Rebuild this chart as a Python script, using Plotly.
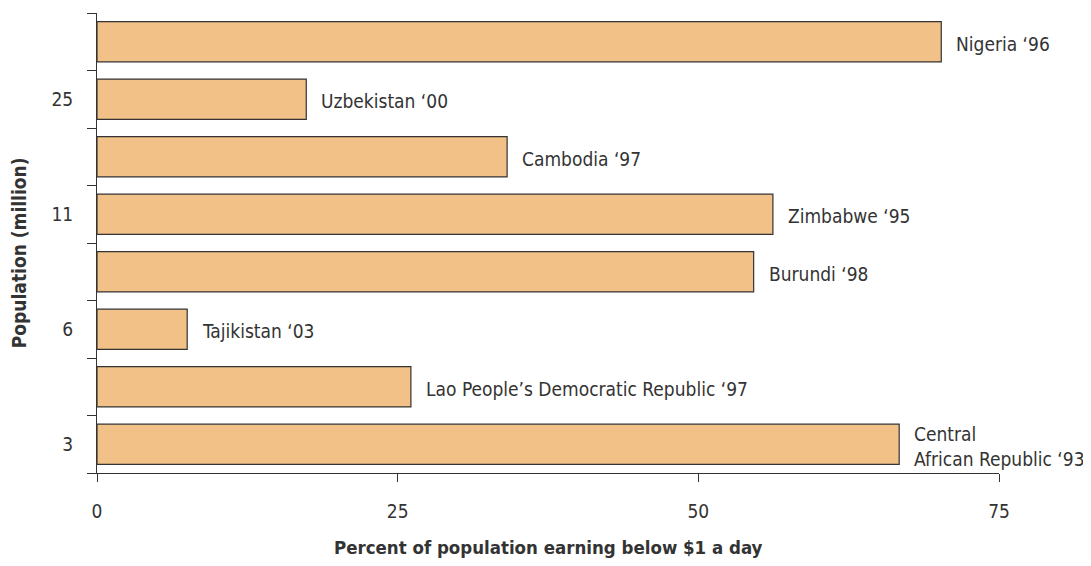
import plotly.graph_objects as go

# Data (bottom to top)
countries = [
    "Central<br>African Republic \u201893",
    "Lao People\u2019s Democratic Republic \u201897",
    "Tajikistan \u201803",
    "Burundi \u201898",
    "Zimbabwe \u201895",
    "Cambodia \u201897",
    "Uzbekistan \u201800",
    "Nigeria \u201896",
]
percent_below_1 = [66.7, 26.1, 7.5, 54.6, 56.2, 34.1, 17.4, 70.2]
pop_tick_positions = [0, 2, 4, 6]
pop_tick_labels = ["3", "6", "11", "25"]
x_ticks = [0, 25, 50, 75]

FONT = "DejaVu Sans Condensed, Roboto Condensed, Liberation Sans Narrow, Roboto, sans-serif"
TXT = "#333333"
positions = list(range(len(countries)))

fig = go.Figure()
fig.add_trace(go.Bar(
    x=percent_below_1,
    y=positions,
    orientation="h",
    width=0.7,
    marker=dict(color="#F2C188", line=dict(color="#333333", width=1.2)),
    hoverinfo="skip",
))

for c, v, p in zip(countries, percent_below_1, positions):
    fig.add_annotation(
        x=v, y=p, text=c, showarrow=False, xanchor="left", yanchor="middle",
        xshift=13, yshift=-2, align="left",
        font=dict(family=FONT, size=19, color=TXT),
    )

fig.add_annotation(
    xref="paper", yref="paper", x=0.5, y=-0.161, xanchor="center", yanchor="middle",
    text="<b>Percent of population earning below $1 a day</b>", showarrow=False,
    font=dict(family=FONT, size=18.5, color=TXT),
)
fig.add_annotation(
    xref="paper", yref="paper", x=-0.0865, y=0.48, xanchor="center", yanchor="middle",
    text="<b>Population (million)</b>", showarrow=False, textangle=-90,
    font=dict(family=FONT, size=19, color=TXT),
)

fig.update_layout(
    width=1091, height=566,
    margin=dict(l=89, r=100, t=5, b=101, autoexpand=False),
    paper_bgcolor="white", plot_bgcolor="white",
    showlegend=False,
    bargap=0.3,
    xaxis=dict(
        range=[0, 75], tickvals=x_ticks, ticktext=[str(t) for t in x_ticks],
        showgrid=False, zeroline=False, showline=True, linecolor="#333333", linewidth=1,
        ticks="outside", ticklen=8, tickcolor="#333333", tickwidth=1,
        tickfont=dict(family=FONT, size=19, color=TXT),
        ticklabelstandoff=13,
    ),
    yaxis=dict(
        range=[-0.5, 7.5], tickvals=pop_tick_positions, ticktext=pop_tick_labels,
        showgrid=False, zeroline=False, showline=True, linecolor="#333333", linewidth=1,
        ticks="outside", ticklen=8, tickcolor="rgba(0,0,0,0)",
        tickfont=dict(family=FONT, size=19, color=TXT),
        ticklabelstandoff=11,
        minor=dict(ticks="outside", tickvals=[-0.5 + i for i in range(9)],
                   ticklen=9, tickcolor="#333333", tickwidth=1, showgrid=False),
    ),
)

fig.write_html("out.html")
